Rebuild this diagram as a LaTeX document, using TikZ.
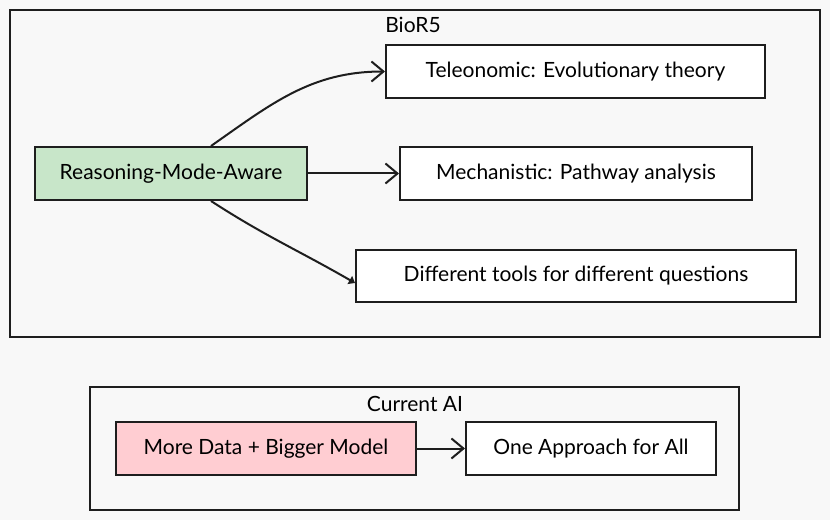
\documentclass[tikz,border=0pt]{standalone}
\usepackage{fontspec}
\setmainfont{Lato}
\usepackage{tikz}
\usetikzlibrary{arrows.meta}

\definecolor{fondo}{HTML}{F8F8F8}
\definecolor{tinta}{HTML}{1E1E1E}
\definecolor{verde}{HTML}{C8E6C9}
\definecolor{rosa}{HTML}{FFCDD2}

\begin{document}
\begin{tikzpicture}[x=1pt,y=1pt]
\tikzset{caja/.style={draw=tinta,line width=2pt,fill=white,minimum height=53pt,inner sep=0pt,font=\fontsize{21}{24}\selectfont},
  marco/.style={draw=tinta,line width=2pt},
  titulo/.style={font=\fontsize{21}{24}\selectfont,inner sep=0pt},
  flecha/.style={draw=tinta,line width=2pt,-{Straight Barb[length=12pt,width=20pt,line width=2pt]}},
  flechab/.style={draw=tinta,line width=2pt,-{Triangle[length=6pt,width=9pt]}}}

% fondo
\fill[fondo] (0,0) rectangle (830,520);

% marcos
\draw[marco] (10,183) rectangle (820,510);
\draw[marco] (90,10) rectangle (739,133);
\node (t1) at (413,495) [titulo] {BioR5};
\node (t2) at (415,116) [titulo] {Current AI};

% cajas BioR5
\node (rm) at (171,346.5) [caja,fill=verde,minimum width=272pt] {Reasoning-Mode-Aware};
\node (tel) at (575.5,448.5) [caja,minimum width=379pt] {Teleonomic: Evolutionary theory};
\node (mech) at (576,346.5) [caja,minimum width=352pt] {Mechanistic: Pathway analysis};
\node (dif) at (576,244) [caja,minimum width=440pt,minimum height=52pt] {Different tools for different questions};
% cajas Current AI
\node (more) at (266,71.5) [caja,fill=rosa,minimum width=300pt] {More Data + Bigger Model};
\node (one) at (591,71.5) [caja,minimum width=250pt] {One Approach for All};

\path
([xshift=40pt]rm.north) edge [flecha,out=35,in=180] (tel.west)
(rm.east) edge [flecha] (mech.west)
([xshift=40pt]rm.south) edge [flechab,out=-33,in=150] ([yshift=-7pt]dif.west)
(more.east) edge [flecha] (one.west);

\end{tikzpicture}
\end{document}
